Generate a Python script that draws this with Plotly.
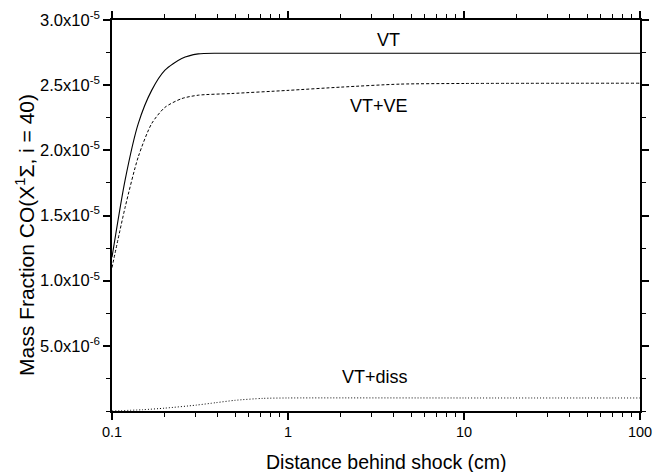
import math
import plotly.graph_objects as go

# Data (mass fraction values in units of 1e-6)
vt_x = [0.1, 0.1186, 0.141, 0.168, 0.2, 0.249, 0.309, 0.4, 0.6, 1, 10, 100]
vt_y = [11.8, 17.7, 22.05, 24.6, 26.15, 27.05, 27.4, 27.45, 27.45, 27.45, 27.45, 27.45]

vtve_x = [0.1, 0.1186, 0.141, 0.168, 0.2, 0.249, 0.309, 0.479, 1.0, 2.0, 4.33, 10, 100]
vtve_y = [11.0, 15.6, 19.5, 22.05, 23.3, 23.97, 24.23, 24.36, 24.6, 24.85, 25.08, 25.13, 25.15]

diss_x = [0.1, 0.15, 0.2, 0.3, 0.39, 0.5, 0.72, 1.0, 10, 100]
diss_y = [0.0, 0.1, 0.22, 0.45, 0.64, 0.82, 0.97, 1.0, 1.0, 1.0]

ytick_vals = [5e-6, 1e-5, 1.5e-5, 2e-5, 2.5e-5, 3e-5]
ytick_text = ["5.0x10<sup>-6</sup>", "1.0x10<sup>-5</sup>", "1.5x10<sup>-5</sup>",
              "2.0x10<sup>-5</sup>", "2.5x10<sup>-5</sup>", "3.0x10<sup>-5</sup>"]
xtick_vals = [0.1, 1, 10, 100]
xtick_text = ["0.1", "1", "10", "100"]

labels = ["VT", "VT+VE", "VT+diss"]
label_x = [3.7, 3.29, 3.12]
label_y = [28.5, 23.4, 2.6]

x_title = "Distance behind shock (cm)"
y_title = "Mass Fraction CO(X<sup>1</sup>Σ, i = 40)"

FONT = "Liberation Sans, Arial, sans-serif"

def scale(v):
    return [a * 1e-6 for a in v]

fig = go.Figure()
fig.add_trace(go.Scatter(x=vt_x, y=scale(vt_y), mode="lines",
                         line=dict(color="black", width=1.1, shape="spline", smoothing=0.7)))
fig.add_trace(go.Scatter(x=vtve_x, y=scale(vtve_y), mode="lines",
                         line=dict(color="black", width=1.0, dash="3px,2px", shape="spline", smoothing=0.7)))
fig.add_trace(go.Scatter(x=diss_x, y=scale(diss_y), mode="lines",
                         line=dict(color="black", width=1.0, dash="1px,2px", shape="spline", smoothing=0.7)))

for t, xx, yy in zip(labels, label_x, scale(label_y)):
    fig.add_annotation(x=math.log10(xx), y=yy, text=t, showarrow=False,
                       font=dict(size=18, color="black", family=FONT))

# axis titles placed as paper annotations
fig.add_annotation(xref="paper", yref="paper", x=0.52, y=-0.13, text=x_title,
                   showarrow=False, xanchor="center", yanchor="middle",
                   font=dict(size=19.5, color="black", family=FONT))
fig.add_annotation(xref="paper", yref="paper", x=-0.165, y=0.45, text=y_title,
                   showarrow=False, textangle=-90, xanchor="center", yanchor="middle",
                   font=dict(size=21, color="black", family=FONT))

axis_common = dict(showline=True, linecolor="black", linewidth=1.5, mirror="ticks",
                   ticks="outside", ticklen=7, tickwidth=1.5, tickcolor="black",
                   showgrid=False, zeroline=False, automargin=False)

fig.update_xaxes(type="log", range=[-1, 2], tickvals=xtick_vals, ticktext=xtick_text,
                 tickfont=dict(size=14.5, color="black", family=FONT),
                 minor=dict(dtick="D1", ticks="outside", ticklen=4, tickwidth=1, tickcolor="black"),
                 **axis_common)
fig.update_yaxes(range=[0, 3e-5], tickvals=ytick_vals, ticktext=ytick_text,
                 tickfont=dict(size=16.5, color="black", family=FONT),
                 minor=dict(dtick=2.5e-6, tick0=0, ticks="outside", ticklen=4, tickwidth=1, tickcolor="black"),
                 **axis_common)

fig.update_layout(width=654, height=472, showlegend=False,
                  plot_bgcolor="white", paper_bgcolor="white",
                  margin=dict(l=112, r=14, t=20, b=61))

fig.write_html("out.html")
